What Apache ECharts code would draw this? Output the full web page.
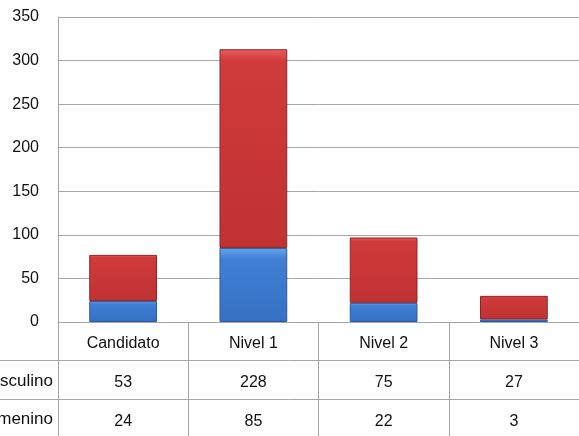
<!DOCTYPE html>
<html><head><meta charset="utf-8">
<script src="https://cdn.jsdelivr.net/npm/echarts@6/dist/echarts.min.js"></script>
<style>html,body{margin:0;padding:0;background:#fff}#c{width:579px;height:436px}</style>
</head><body><div id="c"></div>
<script>
const categories = ['Candidato', 'Nivel 1', 'Nivel 2', 'Nivel 3'];
const masculino = [53, 228, 75, 27];
const femenino = [24, 85, 22, 3];
const rowLabels = ['Masculino', 'Femenino'];
const yTicks = [0, 50, 100, 150, 200, 250, 300, 350];

const FONT = '"Liberation Sans", Arial, sans-serif';
const GRID = '#a6a6a6';
const TXT = '#111';
const chart = echarts.init(document.getElementById('c'), null, {renderer: 'canvas'});
chart.setOption({
  animation: false,
  backgroundColor: '#fff',
  textStyle: {fontFamily: FONT},
  grid: {left: 58, top: 17, width: 525, height: 305, containLabel: false},
  xAxis: [
    {type: 'category', data: categories, boundaryGap: true,
     axisLine: {show: true, lineStyle: {color: GRID, width: 1}},
     axisTick: {show: true, interval: 0, length: 115, lineStyle: {color: GRID}},
     axisLabel: {interval: 0, margin: 14, fontSize: 16, color: TXT, fontFamily: FONT}},
    {type: 'category', data: categories, position: 'bottom', offset: 38,
     axisLine: {show: false}, axisTick: {show: false},
     axisLabel: {interval: 0, margin: 15, fontSize: 16, color: TXT, fontFamily: FONT,
       formatter: (v, i) => String(masculino[i])}},
    {type: 'category', data: categories, position: 'bottom', offset: 77,
     axisLine: {show: false}, axisTick: {show: false},
     axisLabel: {interval: 0, margin: 15, fontSize: 16, color: TXT, fontFamily: FONT,
       formatter: (v, i) => String(femenino[i])}}
  ],
  yAxis: {type: 'value', min: yTicks[0], max: yTicks[yTicks.length - 1], interval: 50,
    axisLine: {show: true, lineStyle: {color: GRID}},
    axisTick: {show: false},
    splitLine: {show: true, lineStyle: {color: GRID, width: 1}},
    axisLabel: {margin: 19, fontSize: 16, color: TXT, fontFamily: FONT}},
  series: [
    {name: 'Femenino', type: 'bar', stack: 'total', data: femenino, barWidth: '52%',
     itemStyle: {color: new echarts.graphic.LinearGradient(0, 0, 0, 1, [
       {offset: 0, color: '#6aa6ee'}, {offset: 0.15, color: '#3f7fd4'}, {offset: 1, color: '#3670c2'}]),
       borderColor: '#2a5a9a', borderWidth: 1}},
    {name: 'Masculino', type: 'bar', stack: 'total', data: masculino,
     itemStyle: {color: new echarts.graphic.LinearGradient(0, 0, 0, 1, [
       {offset: 0, color: '#e86060'}, {offset: 0.06, color: '#d03a3a'}, {offset: 1, color: '#c03232'}]),
       borderColor: '#8e2424', borderWidth: 1}}
  ],
  graphic: [
    {type: 'line', shape: {x1: 0, y1: 360.5, x2: 579, y2: 360.5}, style: {stroke: GRID, lineWidth: 1}},
    {type: 'line', shape: {x1: 0, y1: 399.5, x2: 579, y2: 399.5}, style: {stroke: GRID, lineWidth: 1}},
    {type: 'text', right: 579 - 53, top: 373, style: {text: rowLabels[0], font: '17px ' + FONT, fill: TXT, textAlign: 'right'}},
    {type: 'text', right: 579 - 53, top: 411, style: {text: rowLabels[1], font: '17px ' + FONT, fill: TXT, textAlign: 'right'}}
  ]
});
</script></body></html>
